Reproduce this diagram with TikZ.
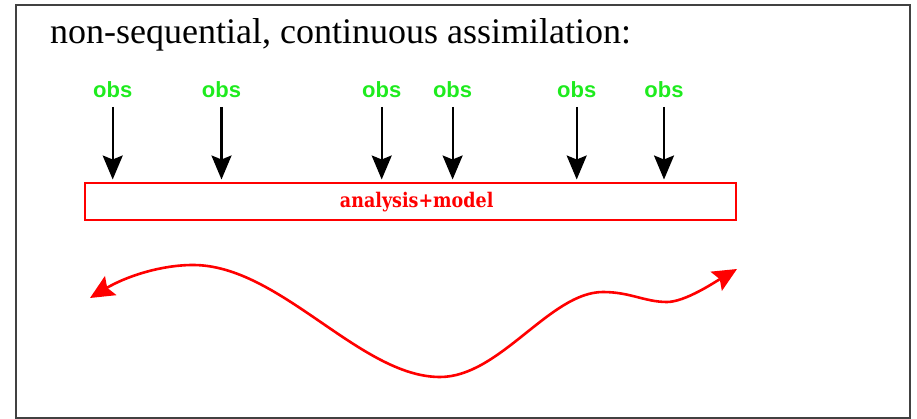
\documentclass[tikz,border=0pt]{standalone}
\usepackage{fontspec}
\setmainfont{Liberation Serif}
\newfontfamily\obsfont{Liberation Sans}
\newfontfamily\boxfont{DejaVu Serif}
\usetikzlibrary{arrows.meta}
\definecolor{obsgreen}{RGB}{30,235,30}
\definecolor{framegray}{RGB}{65,65,65}
\tikzset{
  obstip/.tip={Stealth[length=24pt 0,width=20pt 0,inset=4pt 0]},
  wavetip/.tip={Stealth[length=24pt 0,width=22pt 0,inset=4pt 0]},
  obslabel/.style={text=obsgreen, font=\obsfont\bfseries\fontsize{22}{24}\selectfont, inner sep=0pt, anchor=base},
  obsarrow/.style={draw=black, line width=2.2pt, -obstip, shorten <=9pt, shorten >=2.5pt},
  modelbox/.style={draw=red, line width=2pt, minimum width=651pt, minimum height=37pt, inner sep=0pt},
  wave/.style={draw=red, line width=2.6pt, wavetip-wavetip}
}
\begin{document}
\begin{tikzpicture}[x=1pt,y=-1pt]
\useasboundingbox (0,0) rectangle (917,419);
% frame
\draw[framegray, line width=2.8pt] (16,5) rectangle (910,418);
% title
\node[anchor=base west, inner sep=0pt, font=\fontsize{36}{40}\selectfont] (title) at (50,44) {non-sequential, continuous assimilation:};
% box
\node[modelbox] (box) at (410.5,201.5) {};
\node[anchor=base, inner sep=0pt, text=red, font=\boxfont\bfseries\fontsize{17.5}{19}\selectfont] (lbl) at (416.7,207.5) {\scalebox{1}[1.15]{analysis+model}};
% obs
\node[obslabel] (o1) at (112.7,98) {obs};
\node[obslabel] (o2) at (221.5,98) {obs};
\node[obslabel] (o3) at (381.7,98) {obs};
\node[obslabel] (o4) at (452.6,98) {obs};
\node[obslabel] (o5) at (576.7,98) {obs};
\node[obslabel] (o6) at (664,98) {obs};
\foreach \n in {o1,o2,o3,o4,o5,o6}{
  \draw[obsarrow] (\n.base) -- (\n.base |- box.north);
}
% wave
\coordinate (wstart) at (90,298);
\coordinate (wend) at (737,269);
\draw[wave] (wstart) .. controls (125,277) and (160,265) .. (193,265)
  .. controls (280,265) and (360,377) .. (440,377)
  .. controls (500,377) and (550,292) .. (603,292)
  .. controls (630,292) and (645,302) .. (667,302)
  .. controls (685,302) and (715,282) .. (wend);
\end{tikzpicture}
\end{document}
